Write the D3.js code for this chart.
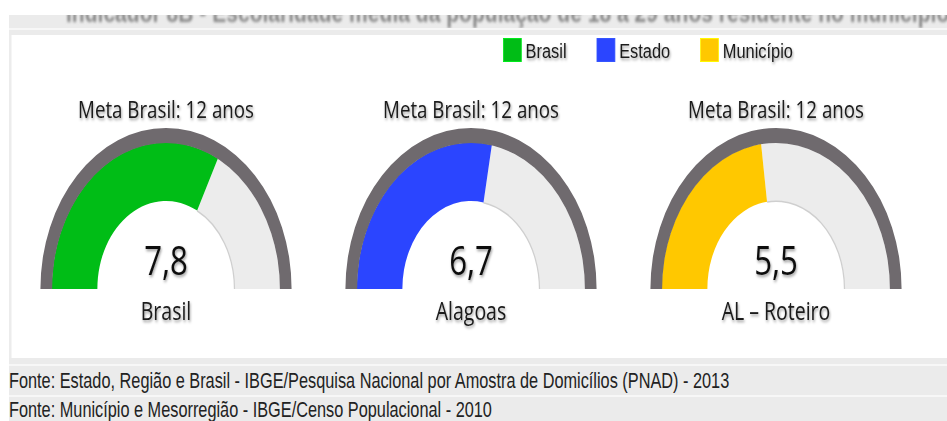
<!DOCTYPE html>
<html>
<head>
<meta charset="utf-8">
<script src="https://cdn.jsdelivr.net/npm/d3@7"></script>
<style>
  body { margin: 0; background: #fff; }
  svg { display: block; }
</style>
</head>
<body>
<svg id="chart"></svg>
<script>
// data
var legendNames = ["Brasil", "Estado", "Município"]
var gaugeNames = ["Brasil", "Alagoas", "AL – Roteiro"]
var gaugeValues = [7.8, 6.7, 5.5]
var metaValue = 12
var metaLabel = "Meta Brasil: 12 anos"
var seriesColors = ["#00bd16", "#2b45ff", "#ffc800"]
var titleText = "Indicador 8B - Escolaridade média da população de 18 a 29 anos residente no município"
var fonteLines = [
        "Fonte: Estado, Região e Brasil - IBGE/Pesquisa Nacional por Amostra de Domicílios (PNAD) - 2013",
        "Fonte: Município e Mesorregião - IBGE/Censo Populacional - 2010"
]

var dimensions = {
        width: 947,
        height: 421,
        sx: 0.78,          // the whole picture is squeezed horizontally
        baseY: 289,
        ring: [146, 161],
        band: [88, 146]
}

var fmt = d3.formatLocale({decimal: ",", thousands: ".", grouping: [3], currency: ["R$", ""]}).format(".1f")

var svg = d3.select("#chart")
        .attr("width", dimensions.width)
        .attr("height", dimensions.height)

var defs = svg.append("defs")
var shadow = defs.append("filter").attr("id", "shadow")
        .attr("x", "-20%").attr("y", "-30%").attr("width", "140%").attr("height", "170%")
shadow.append("feDropShadow")
        .attr("dx", 1).attr("dy", 2).attr("stdDeviation", 1.5)
        .attr("flood-color", "#000").attr("flood-opacity", 0.4)
var blur = defs.append("filter").attr("id", "blur")
blur.append("feGaussianBlur").attr("stdDeviation", 1.6)
defs.append("clipPath").attr("id", "titleClip")
        .append("rect").attr("x", 0).attr("y", 15).attr("width", dimensions.width).attr("height", 13)

// background bands
svg.append("rect").attr("x", 9).attr("y", 15).attr("width", 938).attr("height", 13).attr("fill", "#ebebeb")
svg.append("rect").attr("x", 9).attr("y", 28).attr("width", 938).attr("height", 2).attr("fill", "#f7f7f7")
svg.append("rect").attr("x", 9).attr("y", 30).attr("width", 938).attr("height", 5).attr("fill", "#ebebeb")
svg.append("rect").attr("x", 9).attr("y", 35).attr("width", 2.5).attr("height", 323).attr("fill", "#ececec")
svg.append("rect").attr("x", 9).attr("y", 358).attr("width", 938).attr("height", 63).attr("fill", "#ebebeb")
svg.append("rect").attr("x", 9).attr("y", 364).attr("width", 938).attr("height", 2).attr("fill", "#f7f7f7")
svg.append("rect").attr("x", 9).attr("y", 395).attr("width", 938).attr("height", 2).attr("fill", "#f7f7f7")

// cut-off title
svg.append("g").attr("clip-path", "url(#titleClip)")
        .append("text")
        .attr("transform", "translate(66,22) scale(" + dimensions.sx + ",1)")
        .attr("font-family", "Liberation Sans, Arial, sans-serif")
        .attr("font-weight", "bold")
        .attr("font-size", 27)
        .attr("fill", "#888")
        .attr("filter", "url(#blur)")
        .text(titleText)

// legend
var legend = svg.append("g").attr("transform", "translate(503,0)")
var lx = 0
legendNames.forEach(function (name, i) {
        var item = legend.append("g")
                .attr("transform", "translate(" + lx + ",0) scale(" + dimensions.sx + ",1)")
        item.append("rect")
                .attr("x", 0.5).attr("y", 38.5).attr("width", 23).attr("height", 23)
                .attr("fill", seriesColors[i])
                .attr("stroke", d3.color(seriesColors[i]).brighter(0.6))
        var t = item.append("text")
                .attr("x", 29).attr("y", 58)
                .attr("font-family", "Liberation Sans, Arial, sans-serif")
                .attr("font-size", 21)
                .attr("fill", "#1a1a1a")
                .attr("filter", "url(#shadow)")
                .text(name)
        lx += (29 + t.node().getComputedTextLength()) * dimensions.sx + 30
})

// gauges
var xScale = d3.scalePoint()
        .domain(gaugeNames)
        .range([166, 776])

var angle = d3.scaleLinear()
        .domain([0, metaValue])
        .range([-Math.PI / 2, Math.PI / 2])

var arc = d3.arc()

var gauges = svg.selectAll(".gauge")
        .data(gaugeNames.map(function (n, i) { return {name: n, value: gaugeValues[i], color: seriesColors[i]} }))
        .enter()
        .append("g")
        .attr("class", "gauge")
        .attr("transform", function (d) { return "translate(" + xScale(d.name) + "," + dimensions.baseY + ") scale(" + dimensions.sx + ",1)" })

// remaining part
gauges.append("path")
        .attr("d", function (d) {
                return arc({innerRadius: dimensions.band[0], outerRadius: dimensions.band[1], startAngle: angle(d.value), endAngle: angle(metaValue)})
        })
        .attr("fill", "#ececec")
gauges.append("path")
        .attr("d", function (d) {
                return arc({innerRadius: dimensions.band[0] - 1, outerRadius: dimensions.band[0] + 0.6, startAngle: angle(d.value), endAngle: angle(metaValue)})
        })
        .attr("fill", "#cfcfcf")

// value part
gauges.append("path")
        .attr("d", function (d) {
                return arc({innerRadius: dimensions.band[0], outerRadius: dimensions.band[1] + 0.5, startAngle: angle(0), endAngle: angle(d.value)})
        })
        .attr("fill", function (d) { return d.color })

// outer ring
gauges.append("path")
        .attr("d", arc({innerRadius: dimensions.ring[0], outerRadius: dimensions.ring[1], startAngle: angle(0), endAngle: angle(metaValue)}))
        .attr("fill", "#6f6a6e")

gauges.append("text")
        .attr("y", 118 - dimensions.baseY)
        .attr("text-anchor", "middle")
        .attr("font-family", "Open Sans, sans-serif")
        .attr("font-size", 24)
        .attr("fill", "#1a1a1a")
        .attr("filter", "url(#shadow)")
        .text(metaLabel)

gauges.append("text")
        .attr("y", -14)
        .attr("text-anchor", "middle")
        .attr("font-family", "Open Sans, sans-serif")
        .attr("font-size", 40)
        .attr("fill", "#111")
        .attr("filter", "url(#shadow)")
        .text(function (d) { return fmt(d.value) })

gauges.append("text")
        .attr("y", 31)
        .attr("text-anchor", "middle")
        .attr("font-family", "Open Sans, sans-serif")
        .attr("font-size", 25)
        .attr("fill", "#1a1a1a")
        .attr("filter", "url(#shadow)")
        .text(function (d) { return d.name })

// sources
svg.selectAll(".fonte")
        .data(fonteLines)
        .enter()
        .append("text")
        .attr("class", "fonte")
        .attr("transform", function (d, i) { return "translate(9," + (388 + i * 29) + ") scale(" + (dimensions.sx * 0.95) + ",1)" })
        .attr("font-family", "Liberation Sans, Arial, sans-serif")
        .attr("font-size", 22)
        .attr("fill", "#222")
        .text(function (d) { return d })
</script>
</body>
</html>
